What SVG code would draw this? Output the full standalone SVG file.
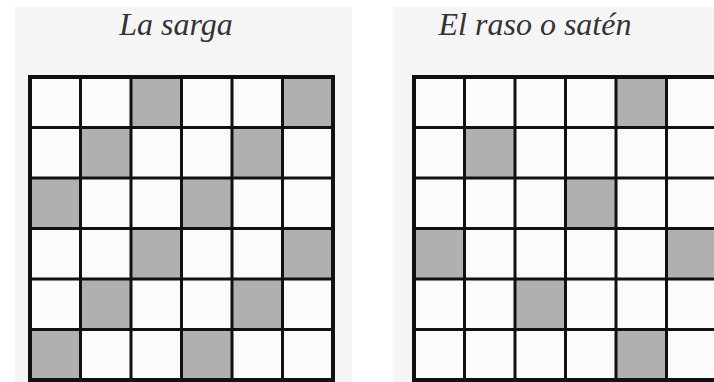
<svg xmlns="http://www.w3.org/2000/svg" width="714" height="382" viewBox="0 0 714 382">
<style>
.panel{fill:#f5f5f5}
.cell{fill:#fbfbfb}
.on{fill:#b0b0b0}
.grid{fill:none;stroke:#111;stroke-width:3}
.frame{fill:none;stroke:#111;stroke-width:4}
.title{font-family:"Liberation Serif","Times New Roman",serif;font-style:italic;font-size:32px;fill:#333}
</style>
<rect width="714" height="382" fill="#ffffff"/>
<g id="sarga">
<rect class="panel" x="15" y="7" width="337" height="375"/>
<text class="title" x="176" y="35" text-anchor="middle">La sarga</text>
<rect class="cell" x="30" y="77" width="303" height="303"/>
<rect class="on" x="131" y="77" width="50.5" height="50.5"/>
<rect class="on" x="282.5" y="77" width="50.5" height="50.5"/>
<rect class="on" x="80.5" y="127.5" width="50.5" height="50.5"/>
<rect class="on" x="232" y="127.5" width="50.5" height="50.5"/>
<rect class="on" x="30" y="178" width="50.5" height="50.5"/>
<rect class="on" x="181.5" y="178" width="50.5" height="50.5"/>
<rect class="on" x="131" y="228.5" width="50.5" height="50.5"/>
<rect class="on" x="282.5" y="228.5" width="50.5" height="50.5"/>
<rect class="on" x="80.5" y="279" width="50.5" height="50.5"/>
<rect class="on" x="232" y="279" width="50.5" height="50.5"/>
<rect class="on" x="30" y="329.5" width="50.5" height="50.5"/>
<rect class="on" x="181.5" y="329.5" width="50.5" height="50.5"/>
<path class="grid" d="M80.5 77V380M131 77V380M181.5 77V380M232 77V380M282.5 77V380M30 127.5H333M30 178H333M30 228.5H333M30 279H333M30 329.5H333"/>
<rect class="frame" x="30" y="77" width="303" height="303"/>
</g>
<g id="raso">
<rect class="panel" x="393" y="7" width="321" height="375"/>
<text class="title" x="535" y="35" text-anchor="middle">El raso o satén</text>
<rect class="cell" x="414" y="77" width="303" height="303"/>
<rect class="on" x="616" y="77" width="50.5" height="50.5"/>
<rect class="on" x="464.5" y="127.5" width="50.5" height="50.5"/>
<rect class="on" x="565.5" y="178" width="50.5" height="50.5"/>
<rect class="on" x="414" y="228.5" width="50.5" height="50.5"/>
<rect class="on" x="666.5" y="228.5" width="50.5" height="50.5"/>
<rect class="on" x="515" y="279" width="50.5" height="50.5"/>
<rect class="on" x="616" y="329.5" width="50.5" height="50.5"/>
<path class="grid" d="M464.5 77V380M515 77V380M565.5 77V380M616 77V380M666.5 77V380M414 127.5H717M414 178H717M414 228.5H717M414 279H717M414 329.5H717"/>
<rect class="frame" x="414" y="77" width="303" height="303"/>
</g>
</svg>
